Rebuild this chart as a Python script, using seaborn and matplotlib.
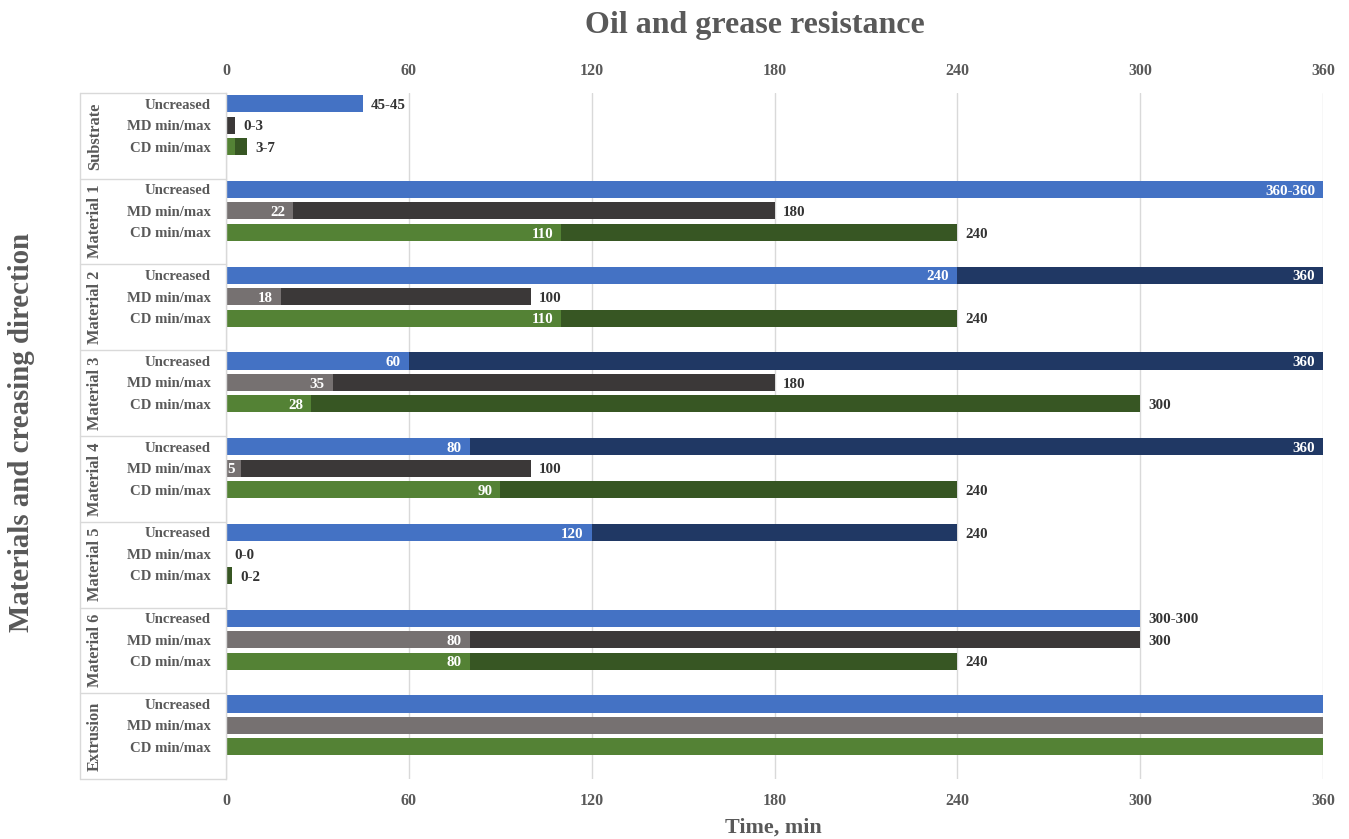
import numpy as np
import pandas as pd
import seaborn as sns
import matplotlib.pyplot as plt
from matplotlib.transforms import blended_transform_factory

# Groups and creasing directions
groups = ["Substrate", "Material 1", "Material 2", "Material 3",
          "Material 4", "Material 5", "Material 6", "Extrusion"]
kinds = ["Uncreased", "MD min/max", "CD min/max"]

# Oil and grease resistance times (min), lower / upper bound per group
min_uncreased = [45, 360, 240, 60, 80, 120, 300, 360]
max_uncreased = [45, 360, 360, 360, 360, 240, 300, 360]
min_md = [0, 22, 18, 35, 5, 0, 80, 360]
max_md = [3, 180, 100, 180, 100, 0, 300, 360]
min_cd = [3, 110, 110, 28, 90, 0, 80, 360]
max_cd = [7, 240, 240, 300, 240, 2, 240, 360]
labelled = [True, True, True, True, True, True, True, False]

x_ticks = [0, 60, 120, 180, 240, 300, 360]

light = {"Uncreased": "#4472C4", "MD min/max": "#767171", "CD min/max": "#548235"}
dark = {"Uncreased": "#203864", "MD min/max": "#3B3838", "CD min/max": "#375623"}
TEXT = "#595959"
GRID = "#D9D9D9"
FONT = "Liberation Serif"

mins = {"Uncreased": min_uncreased, "MD min/max": min_md, "CD min/max": min_cd}
maxs = {"Uncreased": max_uncreased, "MD min/max": max_md, "CD min/max": max_cd}

records, order, tick_text = [], [], []
for gi, g in enumerate(groups):
    for k in kinds:
        slot = f"{g}|{k}"
        records.append({"slot": slot, "group": g, "kind": k,
                         "lo": mins[k][gi], "hi": maxs[k][gi], "show": labelled[gi]})
        order.append(slot)
        tick_text.append(k)
    order.append(f"{g}|gap")
    tick_text.append("")
df = pd.DataFrame(records)

sns.set_style("white")
plt.rcParams["font.family"] = [FONT, "DejaVu Serif"]
plt.rcParams["font.weight"] = "bold"

fig = plt.figure(figsize=(13.49, 8.39), dpi=100)
W, H = 1349, 839
ax = fig.add_axes([226 / W, 1 - 779 / H, (1323 - 226) / W, (779 - 93) / H])

# upper bound first (dark), lower bound drawn over it (light)
sns.barplot(data=df, y="slot", x="hi", hue="kind", hue_order=kinds, palette=dark,
            order=order, dodge=False, width=0.8, saturation=1, legend=False, ax=ax,
            linewidth=0)
sns.barplot(data=df, y="slot", x="lo", hue="kind", hue_order=kinds, palette=light,
            order=order, dodge=False, width=0.8, saturation=1, legend=False, ax=ax,
            linewidth=0)

ax.set_xlim(0, 360)
ax.set_ylim(len(order) - 0.5, -0.5)
ax.set_xticks(x_ticks)
ax.set_xticklabels([str(t) for t in x_ticks])
ax.set_yticks(range(len(order)))
ax.set_yticklabels(tick_text)
ax.set_xlabel("")
ax.set_ylabel("")
ax.tick_params(axis="x", top=True, labeltop=True, bottom=True, labelbottom=True,
               length=0, pad=10, labelsize=11.5, labelcolor=TEXT)
ax.tick_params(axis="y", length=0, pad=11, labelsize=10.6, labelcolor=TEXT)
for lab in ax.get_xticklabels() + ax.get_yticklabels():
    lab.set_fontweight("bold")

ax.xaxis.grid(True, color=GRID, linewidth=1)
ax.yaxis.grid(False)
ax.set_axisbelow(True)
for s in ["top", "right", "bottom"]:
    ax.spines[s].set_visible(False)
ax.spines["left"].set_color(GRID)
ax.spines["left"].set_linewidth(1)

# multi-level category frame on the left
trans = blended_transform_factory(ax.transAxes, ax.transData)
left_x = (80 - 226) / (1323 - 226)
for gi in range(len(groups) + 1):
    ax.plot([left_x, 0], [gi * 4 - 0.5, gi * 4 - 0.5], color=GRID, lw=1,
            transform=trans, clip_on=False)
ax.plot([left_x, left_x], [-0.5, len(order) - 0.5], color=GRID, lw=1,
        transform=trans, clip_on=False)
group_x = (95 - 226) / (1323 - 226)
for gi, g in enumerate(groups):
    ax.text(group_x, gi * 4 + 1.5, g, rotation=90, ha="center", va="center",
            transform=trans, fontsize=11.8, fontweight="bold", color=TEXT)

# value labels
DARK_TXT = "#333333"
pad = 2.6
FS = 10.8
for i, r in df.iterrows():
    if not r["show"]:
        continue
    y = order.index(r["slot"]) + 0.08
    lo, hi = r["lo"], r["hi"]
    if lo == hi or hi < 15:
        txt = f"{lo}-{hi}"
        if hi >= 360:
            ax.text(hi - pad, y, txt, ha="right", va="center", color="white",
                    fontsize=FS, fontweight="bold")
        else:
            ax.text(hi + pad, y, txt, ha="left", va="center", color=DARK_TXT,
                    fontsize=FS, fontweight="bold")
        continue
    ax.text(lo - pad if lo >= 10 else 0.3, y, str(lo),
            ha="right" if lo >= 10 else "left", va="center", color="white",
            fontsize=FS, fontweight="bold")
    if hi >= 360:
        ax.text(hi - pad, y, str(hi), ha="right", va="center", color="white",
                fontsize=FS, fontweight="bold")
    else:
        ax.text(hi + pad, y, str(hi), ha="left", va="center", color=DARK_TXT,
                fontsize=FS, fontweight="bold")

fig.text(755 / W, 1 - 25 / H, "Oil and grease resistance", ha="center", va="center",
         fontsize=23, fontweight="bold", color=TEXT)
fig.text(773 / W, 1 - 828 / H, "Time, min", ha="center", va="center",
         fontsize=15.8, fontweight="bold", color=TEXT)
fig.text(22 / W, 1 - 432 / H, "Materials and creasing direction", rotation=90,
         ha="center", va="center", fontsize=20.8, fontweight="bold", color=TEXT)

fig.savefig("out.png", dpi=100)
